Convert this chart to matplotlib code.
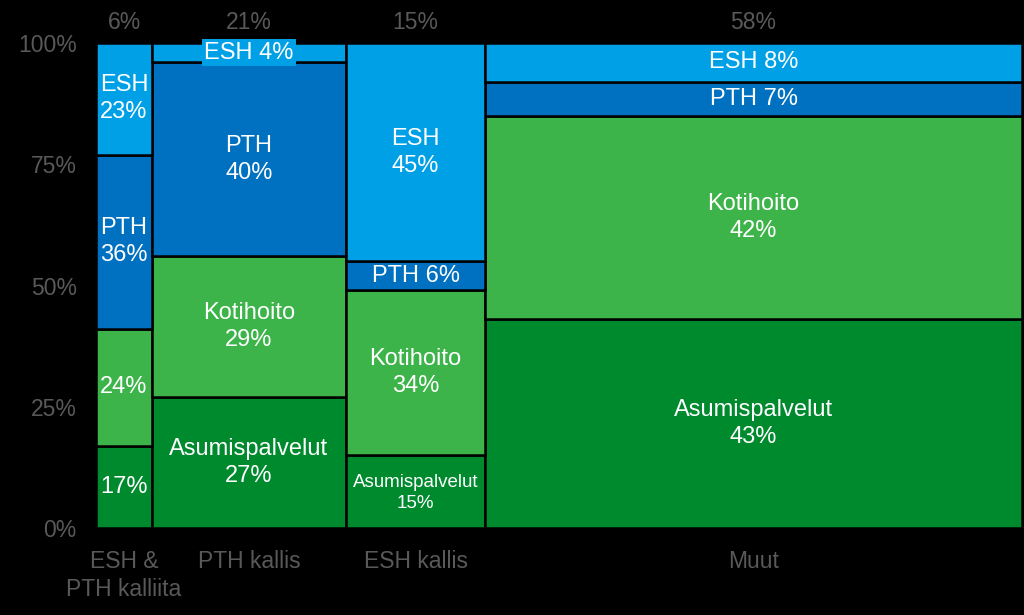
import numpy as np
import matplotlib
matplotlib.use("Agg")
import matplotlib.pyplot as plt

plt.rcParams["font.family"] = ["Liberation Sans", "DejaVu Sans"]

groups = ["ESH &\nPTH kalliita", "PTH kallis", "ESH kallis", "Muut"]
widths = [6, 21, 15, 58]
segments = ["Asumispalvelut", "Kotihoito", "PTH", "ESH"]
shares = {
    "Asumispalvelut": [17, 27, 15, 43],
    "Kotihoito": [24, 29, 34, 42],
    "PTH": [36, 40, 6, 7],
    "ESH": [23, 4, 45, 8],
}
colors = {
    "Asumispalvelut": "#008A2E",
    "Kotihoito": "#3CB44A",
    "PTH": "#0070C0",
    "ESH": "#00A0E6",
}
# how the label is written in each cell
labels = {
    "Asumispalvelut": ["17%", "Asumispalvelut\n27%", "Asumispalvelut\n15%", "Asumispalvelut\n43%"],
    "Kotihoito": ["24%", "Kotihoito\n29%", "Kotihoito\n34%", "Kotihoito\n42%"],
    "PTH": ["PTH\n36%", "PTH\n40%", "PTH 6%", "PTH 7%"],
    "ESH": ["ESH\n23%", "ESH 4%", "ESH\n45%", "ESH 8%"],
}
grey = "#595959"

fig = plt.figure(figsize=(10.24, 6.15), dpi=100, facecolor="black")
ax = fig.add_axes([0.094, 0.1415, 0.904, 0.7885])
ax.set_facecolor("black")

lefts = np.concatenate([[0], np.cumsum(widths)[:-1]])
centers = lefts + np.array(widths) / 2
bottom = np.zeros(len(widths))
for seg in segments:
    vals = np.array(shares[seg], dtype=float)
    ax.bar(lefts, vals, width=widths, bottom=bottom, align="edge",
           color=colors[seg], edgecolor="black", linewidth=1.8)
    for i, v in enumerate(vals):
        txt = labels[seg][i]
        y = bottom[i] + v / 2
        size = 17
        bbox = None
        if seg == "Asumispalvelut" and i == 2:
            size = 13.5
            y = 7.3
            bbox = dict(boxstyle="square,pad=0.05", fc=colors[seg], ec="none")
        if seg == "ESH" and i == 1:
            bbox = dict(boxstyle="square,pad=0.1", fc=colors[seg], ec="none")
        ax.text(centers[i], y, txt, ha="center", va="center", color="white",
                fontsize=size, linespacing=1.3, bbox=bbox, zorder=5)
    bottom += vals

ax.set_xlim(0, 100)
ax.set_ylim(0, 100)
ax.set_yticks([0, 25, 50, 75, 100])
ax.set_yticklabels(["0%", "25%", "50%", "75%", "100%"])
ax.set_xticks(centers)
ax.set_xticklabels(groups, linespacing=1.25, va="top")
ax.tick_params(colors=grey, labelsize=16.5, length=0)
ax.tick_params(axis="x", pad=16)
ax.tick_params(axis="y", pad=14)
for s in ax.spines.values():
    s.set_visible(False)

for c, w in zip(centers, widths):
    ax.text(c, 101.8, f"{w}%", ha="center", va="bottom", color=grey, fontsize=16.5)

fig.savefig("out.png", dpi=100, facecolor="black")
